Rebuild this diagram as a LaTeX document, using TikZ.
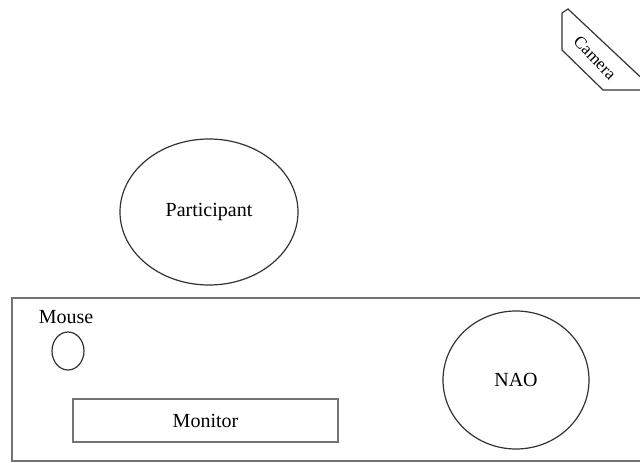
\documentclass[tikz,border=0pt]{standalone}
\usepackage{fontspec}
\setmainfont{Liberation Serif}
\usetikzlibrary{shapes.geometric}
\begin{document}
\begin{tikzpicture}[x=1pt,y=-1pt,
  boxline/.style={draw=black!55,line width=2.6pt},
  thinline/.style={draw=black!80,line width=1.2pt},
  lbl/.style={font=\fontsize{20}{24}\selectfont,inner sep=0pt}]
\useasboundingbox (0,0) rectangle (640,463);
\clip (0,0) rectangle (640,463);
% camera
\draw[thinline] (562,13) -- (568,9) -- (650,86) -- (650,90) -- (603,90) -- (562,50) -- cycle;
\node[lbl,font=\fontsize{17}{19}\selectfont,rotate=-46] (cam) at (595,58) {Camera};
% participant
\node[thinline,ellipse,minimum width=178pt,minimum height=146pt,lbl] (part) at (209,212) {Participant};
% table
\draw[boxline] (12,298) rectangle (660,461);
\node[lbl] (mouselbl) at (66,317) {Mouse};
\node[thinline,ellipse,minimum width=32pt,minimum height=38pt,inner sep=0pt] (mouse) at (68,351) {};
\node[boxline,minimum width=265pt,minimum height=43pt,lbl] (monitor) at (205.5,420.5) {Monitor};
\node[thinline,ellipse,minimum width=146pt,minimum height=138pt,lbl] (nao) at (516,380) {NAO};
\end{tikzpicture}
\end{document}
